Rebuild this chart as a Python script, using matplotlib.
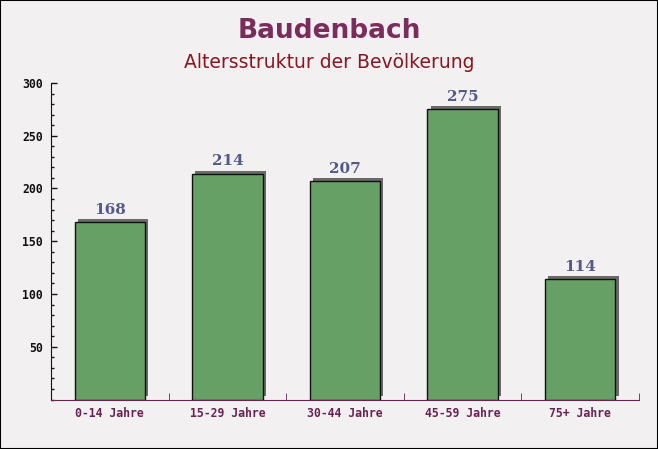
import matplotlib
matplotlib.use("Agg")
import matplotlib.pyplot as plt
import matplotlib.patheffects as pe
from matplotlib.ticker import MultipleLocator
from matplotlib.patches import Rectangle

categories = ["0-14 Jahre", "15-29 Jahre", "30-44 Jahre", "45-59 Jahre", "75+ Jahre"]
values = [168, 214, 207, 275, 114]
title = "Baudenbach"
subtitle = "Altersstruktur der Bevölkerung"

bg = "#f3f0f2"
fig = plt.figure(figsize=(6.58, 4.49), dpi=100, facecolor=bg)
ax = fig.add_axes([51/658, 1 - 399.5/449, (639 - 51)/658, (399.5 - 83)/449])
ax.set_facecolor("none")

x = list(range(len(categories)))
bars = ax.bar(x, values, width=0.6, color="#67a064", edgecolor="#111111", linewidth=1.0, zorder=3)
for b in bars:
    b.set_path_effects([pe.SimplePatchShadow(offset=(2.3, 2.3), shadow_rgbFace="#6a6a6a", alpha=1.0), pe.Normal()])

for xi, v in zip(x, values):
    ax.text(xi, v + 5, str(v), ha="center", va="bottom", fontsize=11, fontweight="bold",
            family="DejaVu Serif", color="#545a88", zorder=4)

ax.set_xlim(-0.5, len(categories) - 0.5)
ax.set_ylim(0, 300)
ax.set_xticks(x)
ax.set_xticklabels(categories, family="DejaVu Sans Mono", fontsize=8.3, fontweight="bold", color="#6b2252")
ax.tick_params(axis="x", length=0, pad=5.5)
ax.set_xticks([i + 0.5 for i in x], minor=True)
ax.tick_params(axis="x", which="minor", direction="in", length=5, color="#6b2252")

ax.yaxis.set_major_locator(MultipleLocator(50))
ax.yaxis.set_minor_locator(MultipleLocator(10))
ax.set_yticks([50, 100, 150, 200, 250, 300])
ax.tick_params(axis="y", which="major", direction="in", length=4, width=1, color="#111111", pad=6)
ax.tick_params(axis="y", which="minor", direction="in", length=2.2, width=1, color="#111111")
for lab in ax.get_yticklabels():
    lab.set_family("DejaVu Sans Mono")
    lab.set_fontweight("bold")
    lab.set_fontsize(8.3)
    lab.set_color("#111111")

for s in ["top", "right"]:
    ax.spines[s].set_visible(False)
ax.spines["left"].set_color("#111111")
ax.spines["bottom"].set_color("#6b2252")

fig.text(0.5, 1 - 31/449, title, ha="center", va="center", fontsize=19, fontweight="bold", color="#7a2d5c")
fig.text(0.5, 1 - 62/449, subtitle, ha="center", va="center", fontsize=13.5, color="#8b1520")

fig.patches.append(Rectangle((0, 0), 1, 1, transform=fig.transFigure, fill=False,
                             edgecolor="black", linewidth=1.5, zorder=10))

fig.savefig("out.png", dpi=100, facecolor=bg)
